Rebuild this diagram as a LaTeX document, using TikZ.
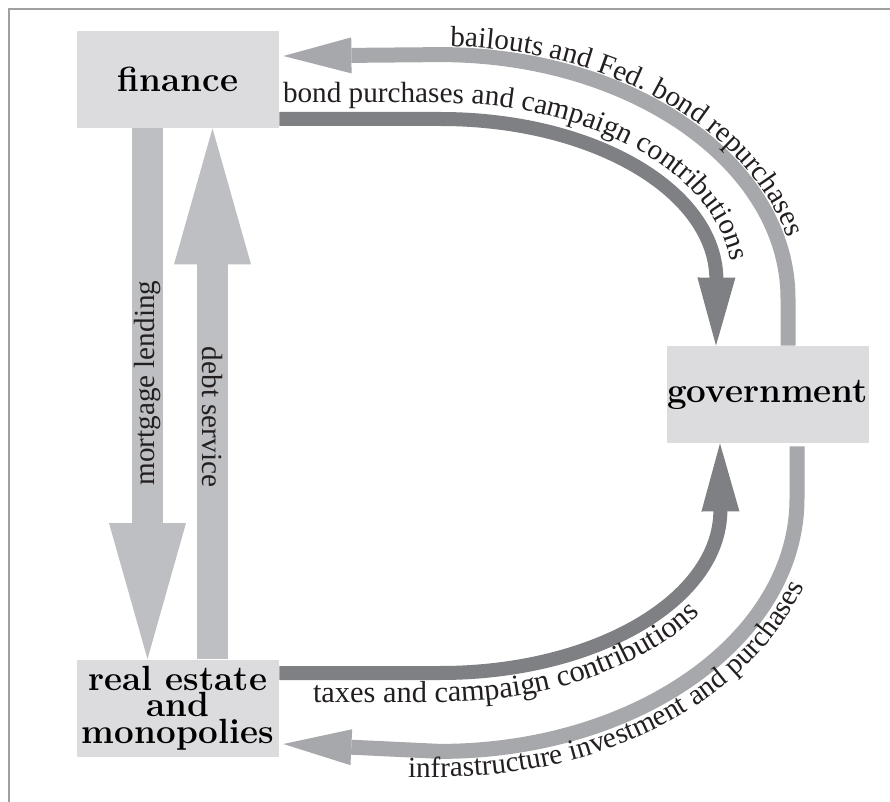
\documentclass[tikz,border=0pt]{standalone}
\usepackage{fontspec}
\usepackage{xcolor}
\usepackage{tikz}
\usetikzlibrary{arrows.meta, decorations.text}

\newfontfamily\flowfamily{Liberation Serif}

\definecolor{boxgray}{HTML}{DCDCDE}
\definecolor{paleflow}{HTML}{BEBFC2}
\definecolor{lightflow}{HTML}{A7A8AB}
\definecolor{darkflow}{HTML}{7F8083}
\definecolor{framegray}{HTML}{A0A0A0}
\definecolor{inkcol}{HTML}{231F20}

\newcommand{\lblfont}{\flowfamily\fontsize{14.6}{16}\selectfont}
\newcommand{\taxfont}{\flowfamily\fontsize{15.2}{16}\selectfont}

\begin{document}
\begin{tikzpicture}[x=0.5pt, y=-0.5pt,
    sector/.style={fill=boxgray, minimum width=101pt, minimum height=48.5pt, inner sep=0pt, align=center, text=black, font=\fontsize{17.5}{13.25}\selectfont\bfseries},
    upright/.style={line width=15.5pt, paleflow, -{Triangle[width=38.5pt, length=68pt, line width=0pt]}},
    darkarc/.style={line width=7pt, darkflow, -{Triangle[width=19pt, length=34pt, line width=0pt]}},
    lightarc/.style={line width=7.5pt, lightflow, -{Triangle[width=18pt, length=34pt, line width=0pt]}},
    uplabel/.style={font=\lblfont, text=inkcol, inner sep=0pt}]
        \useasboundingbox (0,0) rectangle (890,802);
        % Frame
        \draw[framegray, line width=1pt] (9,802) -- (9,9) -- (890,9);
        % Sectors
        \node[sector] (fin) at (178,79.5) {finance};
        \node[sector] (gov) at (767.5,394.5) {government};
        \node[sector] (re) at (178,708) {real estate\\and\\monopolies};
        % Lending and debt service
        \draw[upright] ([xshift=-15.25pt]fin.south) -- ([xshift=-15.25pt]re.north)
            node[uplabel, pos=0.48, rotate=90] {mortgage lending};
        \draw[upright] ([xshift=17.25pt]re.north) -- ([xshift=17.25pt]fin.south)
            node[uplabel, pos=0.456, rotate=-90] {debt service};
        % Flows to and from government
        \draw[darkarc] ([yshift=-19.75pt]fin.east) -- ++(161,0) .. controls +(153,0) and +(0,-89) .. ++(276,161) -- ([xshift=-25.75pt]gov.north);
        \draw[lightarc] ([xshift=10.25pt]gov.north) -- ++(0,-47) .. controls +(0,-134.8) and +(192.2,0) .. ++(-348,-244) -- ([shift={(2pt,11.75pt)}]fin.east);
        \draw[darkarc] ([yshift=17.5pt]re.east) -- ++(161,0) .. controls +(154.6,0) and +(0,90) .. ++(280,-163) -- ([xshift=-23.75pt]gov.south);
        \draw[lightarc] ([shift={(14.75pt,-1.5pt)}]gov.south) -- ++(0,52) .. controls +(0,139.7) and +(197.2,0) .. ++(-357,253) -- ([shift={(2pt,-18pt)}]re.east);
        % Labels along the flows
        \path[decorate, decoration={text along path, text color=inkcol, text align={left indent=5pt},
            text={|\lblfont|bailouts and Fed. bond repurchases}}]
            (440,46) .. controls +(197.7,0) and +(0,-140.3) .. (798,300) -- (798,420);
        \path[decorate, decoration={text along path, text color=inkcol,
            text={|\lblfont|bond purchases and campaign contributions}}]
            (283,103) -- (440,103) .. controls +(161.3,0) and +(0,-97.8) .. (732,280) -- (732,420);
        \path[decorate, decoration={text along path, text color=inkcol,
            text={|\taxfont|taxes and campaign contributions}}]
            (313,702) -- (440,702) .. controls +(170.6,0) and +(0,106) .. (749,510) -- (749,400);
        \path[decorate, decoration={text along path, text color=inkcol,
            text={|\lblfont|infrastructure investment and purchases}}]
            (408,777) -- (440,777) .. controls +(212.1,0) and +(0,154.6) .. (824,497) -- (824,400);
    \end{tikzpicture}
\end{document}
